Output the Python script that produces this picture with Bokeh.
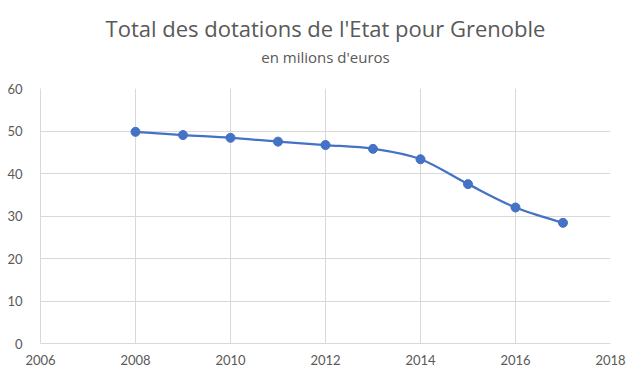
from bokeh.plotting import figure
from bokeh.models import Range1d, Title
from bokeh.embed import file_html
from bokeh.resources import INLINE

years = [2008, 2009, 2010, 2011, 2012, 2013, 2014, 2015, 2016, 2017]
dotations = [49.8, 49.05, 48.4, 47.5, 46.7, 45.8, 43.35, 37.5, 32.0, 28.4]

x_ticks = [2006, 2008, 2010, 2012, 2014, 2016, 2018]
y_ticks = [0, 10, 20, 30, 40, 50, 60]

TEXT = "#595959"
GRID = "#d9d9d9"
BLUE = "#4472C4"
FONT = "Lato"
TFONT = "Open Sans"

p = figure(width=626, height=367, output_backend="svg", toolbar_location=None,
           x_range=Range1d(2006, 2018), y_range=Range1d(0, 60),
           min_border_left=40, min_border_right=16, min_border_bottom=22, min_border_top=88)

# spacer between the subtitle and the plot frame
p.add_layout(Title(text=" ", text_font_size="17px", standoff=0), "above")
p.add_layout(Title(text="en milions d'euros", align="center", text_font_size="15px",
                   text_font=TFONT, text_color=TEXT, text_font_style="normal",
                   standoff=1), "above")
p.title.text = "Total des dotations de l'Etat pour Grenoble"
p.title.align = "center"
p.title.text_font = TFONT
p.title.text_font_size = "22px"
p.title.text_color = TEXT
p.title.text_font_style = "normal"
p.title.standoff = 4

p.outline_line_color = None
p.background_fill_color = "white"
p.border_fill_color = "white"

for ax, tk in ((p.xaxis, x_ticks), (p.yaxis, y_ticks)):
    ax.ticker = tk
    ax.major_label_text_font = FONT
    ax.major_label_text_font_size = "13px"
    ax.major_label_text_color = TEXT
    ax.axis_line_color = GRID
    ax.major_tick_line_color = None
    ax.minor_tick_line_color = None
p.yaxis.major_label_standoff = 12
p.xaxis.major_label_standoff = 5

p.xgrid.ticker = x_ticks
p.ygrid.ticker = y_ticks
p.grid.grid_line_color = GRID
p.grid.grid_line_width = 1

# smoothed line (Catmull-Rom style bezier through the data points)
n = len(years)
x0, y0, x1, y1, cx0, cy0, cx1, cy1 = [], [], [], [], [], [], [], []
for i in range(n - 1):
    xp, yp = (years[i - 1], dotations[i - 1]) if i > 0 else (years[i], dotations[i])
    xn2, yn2 = (years[i + 2], dotations[i + 2]) if i + 2 < n else (years[i + 1], dotations[i + 1])
    x0.append(years[i]); y0.append(dotations[i])
    x1.append(years[i + 1]); y1.append(dotations[i + 1])
    cx0.append(years[i] + (years[i + 1] - xp) / 6)
    cy0.append(dotations[i] + (dotations[i + 1] - yp) / 6)
    cx1.append(years[i + 1] - (xn2 - years[i]) / 6)
    cy1.append(dotations[i + 1] - (yn2 - dotations[i]) / 6)

p.bezier(x0=x0, y0=y0, x1=x1, y1=y1, cx0=cx0, cy0=cy0, cx1=cx1, cy1=cy1,
         line_color=BLUE, line_width=2.25)
p.scatter(years, dotations, size=9, fill_color=BLUE, line_color=BLUE)

open("out.html", "w").write(file_html(p, INLINE))
